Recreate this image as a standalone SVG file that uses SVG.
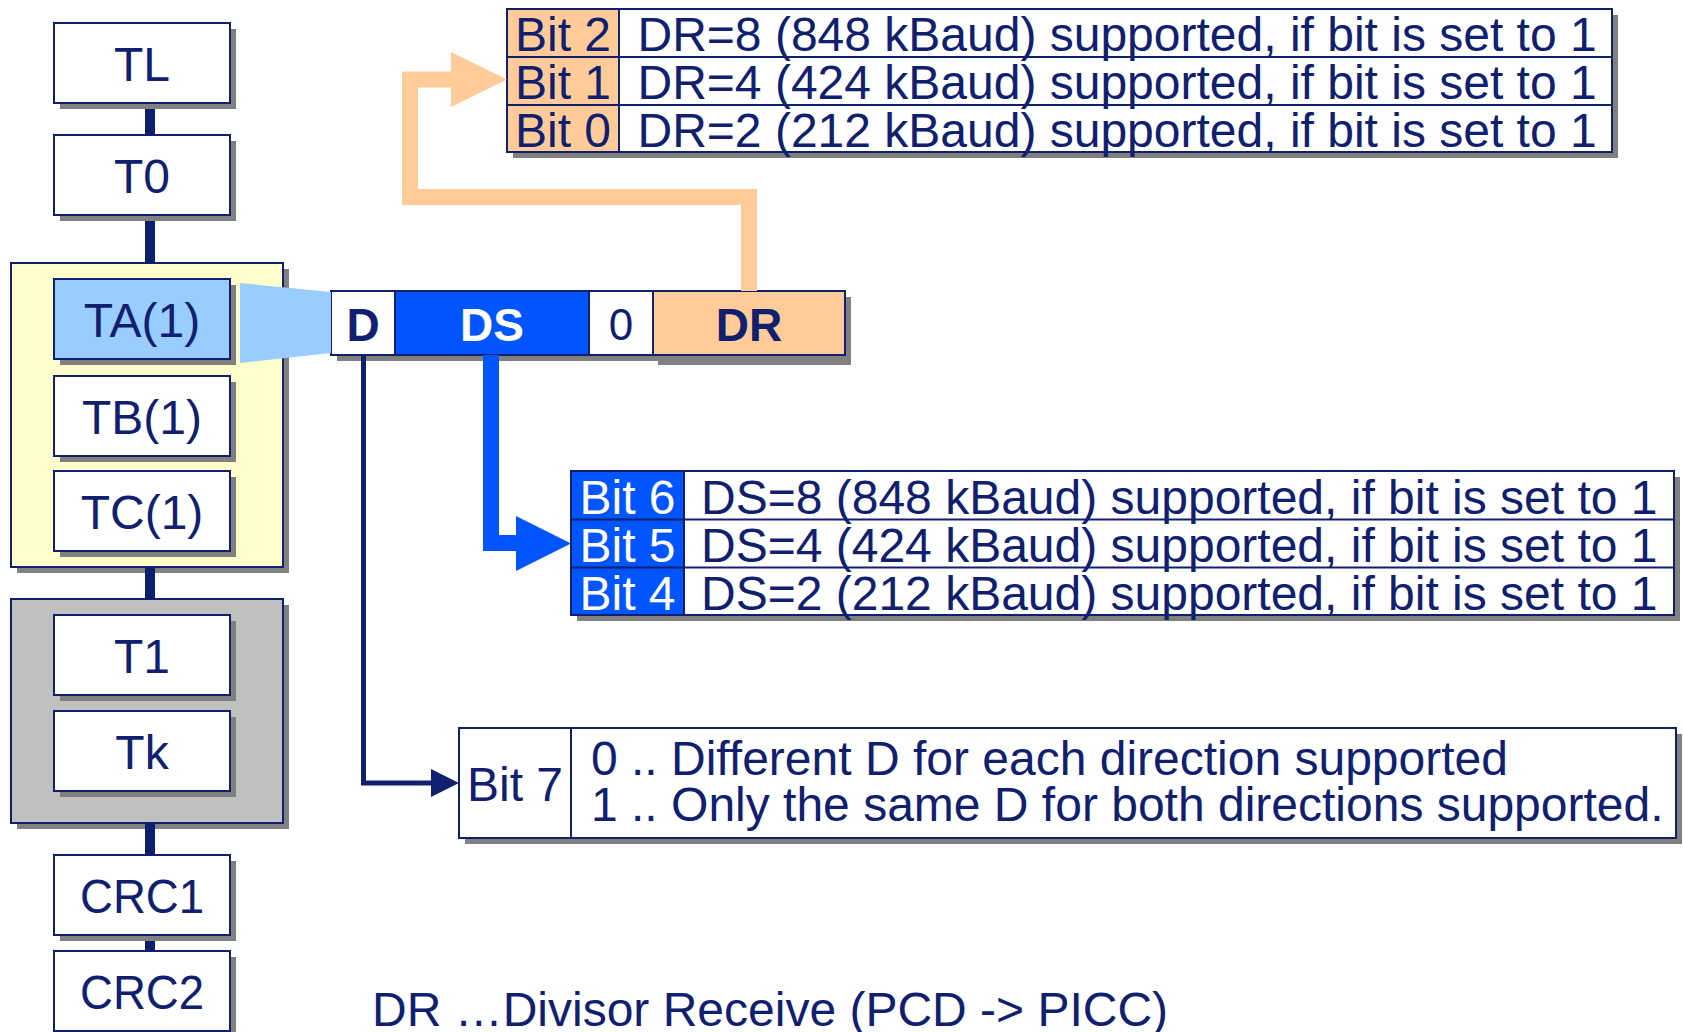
<svg xmlns="http://www.w3.org/2000/svg" width="1683" height="1032" viewBox="0 0 1683 1032">
  <defs>
    <style>
      .box{fill:#ffffff;stroke:#10206f;stroke-width:2}
      .sh{fill:#808080}
      .t{font-family:"Liberation Sans",Arial,sans-serif;font-size:48px;fill:#10206f}
      .c{text-anchor:middle}
      .w{fill:#ffffff}
      .bf{font-weight:bold;font-size:46px}
      .line{stroke:#10206f;stroke-width:2;fill:none}
      .link{stroke:#0b1f6e;stroke-width:10}
    </style>
  </defs>
  <rect width="1683" height="1032" fill="#ffffff"/>

  <!-- frame groups on the left -->
  <g id="grp-ta">
    <rect class="sh" x="17" y="269" width="272" height="304"/>
    <rect class="box" x="11" y="263" width="272" height="304" style="fill:#ffffcc"/>
  </g>
  <g id="grp-hist">
    <rect class="sh" x="17" y="605" width="272" height="224"/>
    <rect class="box" x="11" y="599" width="272" height="224" style="fill:#c0c0c0"/>
  </g>

  <!-- chain links -->
  <g id="connectors-chain">
    <line class="link" x1="150" y1="103" x2="150" y2="135"/>
    <line class="link" x1="150" y1="215" x2="150" y2="263"/>
    <line class="link" x1="150" y1="567" x2="150" y2="599"/>
    <line class="link" x1="150" y1="823" x2="150" y2="855"/>
    <line class="link" x1="150" y1="935" x2="150" y2="951"/>
  </g>

  <!-- ATS bytes -->
  <g id="tl">
    <rect class="sh" x="60" y="29" width="176" height="80"/>
    <rect class="box" x="54" y="23" width="176" height="80"/>
    <text class="t c" x="142" y="80.5">TL</text>
  </g>
  <g id="t0">
    <rect class="sh" x="60" y="141" width="176" height="80"/>
    <rect class="box" x="54" y="135" width="176" height="80"/>
    <text class="t c" x="142" y="192.5">T0</text>
  </g>
  <g id="ta1">
    <rect class="sh" x="60" y="285" width="176" height="80"/>
    <rect class="box" x="54" y="279" width="176" height="80" style="fill:#99ccff"/>
    <text class="t c" x="142" y="336.5">TA(1)</text>
  </g>
  <g id="tb1">
    <rect class="sh" x="60" y="382" width="176" height="80"/>
    <rect class="box" x="54" y="376" width="176" height="80"/>
    <text class="t c" x="142" y="433.5">TB(1)</text>
  </g>
  <g id="tc1">
    <rect class="sh" x="60" y="477" width="176" height="80"/>
    <rect class="box" x="54" y="471" width="176" height="80"/>
    <text class="t c" x="142" y="528.5">TC(1)</text>
  </g>
  <g id="t1">
    <rect class="sh" x="60" y="621" width="176" height="80"/>
    <rect class="box" x="54" y="615" width="176" height="80"/>
    <text class="t c" x="142" y="672.5">T1</text>
  </g>
  <g id="tk">
    <rect class="sh" x="60" y="717" width="176" height="80"/>
    <rect class="box" x="54" y="711" width="176" height="80"/>
    <text class="t c" x="142" y="768.5">Tk</text>
  </g>
  <g id="crc1">
    <rect class="sh" x="60" y="861" width="176" height="80"/>
    <rect class="box" x="54" y="855" width="176" height="80"/>
    <text class="t c" x="142" y="912.5" textLength="124" lengthAdjust="spacingAndGlyphs">CRC1</text>
  </g>
  <g id="crc2">
    <rect class="sh" x="60" y="957" width="176" height="80"/>
    <rect class="box" x="54" y="951" width="176" height="80"/>
    <text class="t c" x="142" y="1008.5" textLength="124" lengthAdjust="spacingAndGlyphs">CRC2</text>
  </g>

  <!-- TA(1) bit field -->
  <g id="bitfield">
    <rect class="sh" x="337" y="297" width="514" height="64"/>
    <rect class="sh" x="658" y="301" width="193" height="64"/>
    <rect class="box" x="331" y="291" width="64" height="64"/>
    <rect class="box" x="395" y="291" width="194" height="64" style="fill:#0055ff"/>
    <rect class="box" x="589" y="291" width="64" height="64"/>
    <rect class="box" x="653" y="291" width="192" height="64" style="fill:#ffcc99"/>
    <text class="t c bf" x="363" y="341">D</text>
    <text class="t c bf w" x="492" y="341">DS</text>
    <text class="t c" x="621" y="340" style="font-size:44px">0</text>
    <text class="t c bf" x="749" y="341">DR</text>
  </g>

  <!-- DR bits -->
  <g id="dr-table">
    <rect class="sh" x="513" y="15" width="1105" height="143"/>
    <rect class="box" x="507" y="9" width="1105" height="143"/>
    <rect x="507" y="9" width="112" height="143" fill="#ffcc99"/>
    <rect class="line" x="507" y="9" width="1105" height="143"/>
    <line class="line" x1="507" y1="57" x2="1612" y2="57"/>
    <line class="line" x1="507" y1="105" x2="1612" y2="105"/>
    <line class="line" x1="619" y1="9" x2="619" y2="152"/>
    <text class="t c" x="563" y="51">Bit 2</text>
    <text class="t c" x="563" y="99">Bit 1</text>
    <text class="t c" x="563" y="147">Bit 0</text>
    <text class="t" x="637.5" y="51">DR=8 (848 kBaud) supported, if bit is set to 1</text>
    <text class="t" x="637.5" y="99">DR=4 (424 kBaud) supported, if bit is set to 1</text>
    <text class="t" x="637.5" y="147">DR=2 (212 kBaud) supported, if bit is set to 1</text>
  </g>

  <!-- DS bits -->
  <g id="ds-table">
    <rect class="sh" x="577" y="477" width="1103" height="144"/>
    <rect class="box" x="571" y="471" width="1103" height="144"/>
    <rect x="571" y="471" width="113" height="144" fill="#0055ff"/>
    <rect class="line" x="571" y="471" width="1103" height="144"/>
    <line class="line" x1="571" y1="519.5" x2="1674" y2="519.5"/>
    <line class="line" x1="571" y1="567.5" x2="1674" y2="567.5"/>
    <line class="line" x1="684" y1="471" x2="684" y2="615"/>
    <text class="t c w" x="627.5" y="513.5">Bit 6</text>
    <text class="t c w" x="627.5" y="561.5">Bit 5</text>
    <text class="t c w" x="627.5" y="609.5">Bit 4</text>
    <text class="t" x="701" y="513.5">DS=8 (848 kBaud) supported, if bit is set to 1</text>
    <text class="t" x="701" y="561.5">DS=4 (424 kBaud) supported, if bit is set to 1</text>
    <text class="t" x="701" y="609.5">DS=2 (212 kBaud) supported, if bit is set to 1</text>
  </g>

  <!-- D bit -->
  <g id="d-table">
    <rect class="sh" x="465" y="734" width="1217" height="110"/>
    <rect class="box" x="459" y="728" width="1217" height="110"/>
    <line class="line" x1="571" y1="728" x2="571" y2="838"/>
    <text class="t c" x="515" y="800.5">Bit 7</text>
    <text class="t" x="591" y="775">0 .. Different D for each direction supported</text>
    <text class="t" x="591" y="821">1 .. Only the same D for both directions supported.</text>
  </g>

  <g id="legend">
    <text class="t" x="372" y="1026">DR …Divisor Receive (PCD -&gt; PICC)</text>
  </g>

  <!-- callouts from the bit field -->
  <g id="connectors">
    <polygon points="240,283 331,292 331,353 240,363" fill="#99ccff"/>
    <path d="M749,291 V197 H410 V79.5 H455" fill="none" stroke="#ffcc99" stroke-width="16"/>
    <polygon points="451,52 507,79.5 451,107" fill="#ffcc99"/>
    <path d="M491,355 V543 H520" fill="none" stroke="#0055ff" stroke-width="16"/>
    <polygon points="516,516 571,543.5 516,571" fill="#0055ff"/>
    <path d="M363.5,355 V783 H435" fill="none" stroke="#10206f" stroke-width="5"/>
    <polygon points="431,769 459,783 431,797" fill="#10206f"/>
  </g>
</svg>
